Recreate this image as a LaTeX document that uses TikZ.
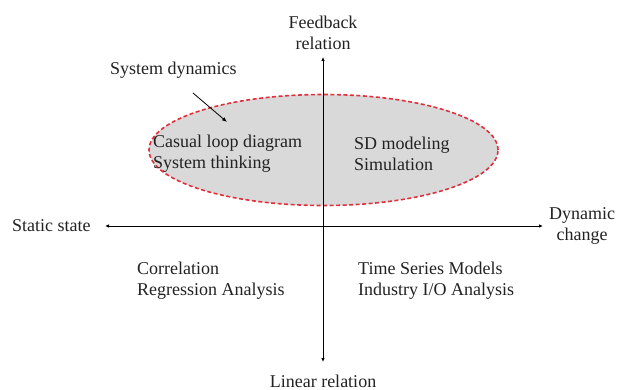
\documentclass[tikz,border=0pt]{standalone}
\usepackage{fontspec}
\setmainfont{Liberation Serif}
\usetikzlibrary{arrows.meta,shapes.geometric}
\definecolor{txt}{HTML}{222222}
\definecolor{sdred}{HTML}{E0303C}
\definecolor{sdgray}{HTML}{D9D9D9}
\tikzset{
  lbl/.style={inner sep=0pt, text=txt, font=\fontsize{18}{21}\selectfont},
  axis/.style={line width=0.8pt, {Latex[length=4pt,width=3.5pt]}-{Latex[length=4pt,width=3.5pt]}},
  pointer/.style={line width=0.8pt, -{Latex[length=5pt,width=4pt]}},
  region/.style={ellipse, draw=sdred, fill=sdgray, line width=1.6pt, dash pattern=on 4pt off 2.5pt, inner sep=0pt}
}
\begin{document}
\begin{tikzpicture}[x={(1pt,0)}, y={(0,-1pt)}]
\useasboundingbox (0,0) rectangle (620,390);
\node[region, minimum width=349pt, minimum height=111pt] (sd) at (323.5,150) {};
\coordinate (top) at (323,57);
\coordinate (bot) at (323,362);
\coordinate (left) at (105,226);
\coordinate (right) at (543,226);
\draw[axis] (bot) -- (top);
\draw[axis] (left) -- (right);
\node[lbl, align=center] (fb) at (323,33) {Feedback\\relation};
\node[lbl, anchor=west] (sdyn) at (110,70) {System dynamics};
\coordinate (ptr) at (227,122);
\draw[pointer] (193,93) -- (ptr);
\node[lbl, align=left, anchor=west] (cld) at (153,153.5) {Casual loop diagram\\System thinking};
\node[lbl, align=left, anchor=west] (sdm) at (354,153.5) {SD modeling\\Simulation};
\node[lbl, anchor=west] (static) at (12,226) {Static state};
\node[lbl, align=center] (dyn) at (582,226) {Dynamic\\change};
\node[lbl, align=left, anchor=west] (corr) at (137,280.5) {Correlation\\Regression Analysis};
\node[lbl, align=left, anchor=west] (ts) at (358,280.5) {Time Series Models\\Industry I/O Analysis};
\node[lbl] (lin) at (323,381) {Linear relation};
\end{tikzpicture}
\end{document}
